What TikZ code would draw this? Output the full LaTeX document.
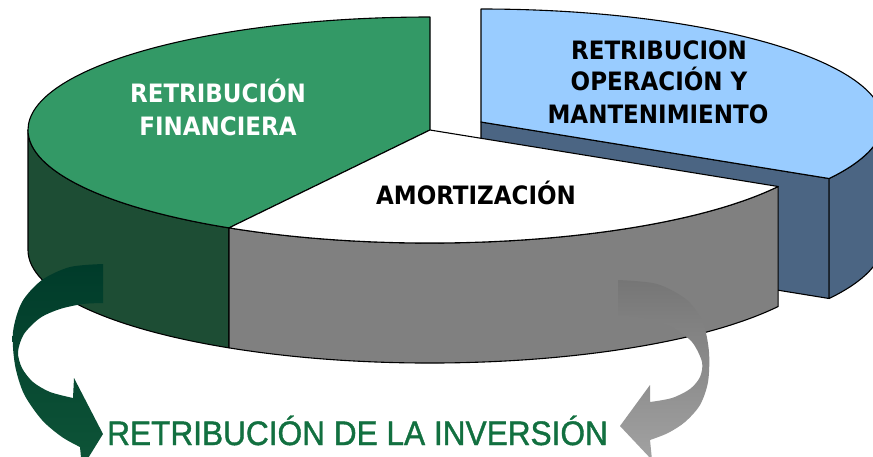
\documentclass[tikz,border=0pt]{standalone}
\usepackage{fontspec}
\setmainfont{Liberation Sans}
\newfontfamily\lblfont{DejaVu Sans}
\newfontfamily\invfont{Liberation Sans}[FakeBold=1.2]
\definecolor{greentop}{HTML}{339966}
\definecolor{greenside}{HTML}{1D4D34}
\definecolor{grayside}{HTML}{808080}
\definecolor{bluetop}{HTML}{99CCFF}
\definecolor{blueside}{HTML}{4B6583}
\definecolor{garrowtop}{HTML}{003B2A}
\definecolor{garrowbot}{HTML}{0E5538}
\definecolor{aarrowtop}{HTML}{767676}
\definecolor{aarrowbot}{HTML}{A2A2A2}
\definecolor{bottomtxt}{HTML}{127040}
\tikzset{
  edge/.style={draw=black, line width=1.1pt, line join=round},
  toplbl/.style={font=\lblfont\bfseries\fontsize{23}{23}\selectfont, inner sep=0pt, anchor=base, yscale=1.1},
  ell/.style={x radius=402, y radius=113},
}
\begin{document}
\begin{tikzpicture}[x=1pt,y=1pt]
\clip (0,-456) rectangle (873,0);
\fill[white] (0,-456) rectangle (873,0);
% centres
\coordinate (C) at (430,-130);
\coordinate (Cb) at (481,-122);
\path (C) ++(240:402 and 113) coordinate (A240);
\path (C) ++(330:402 and 113) coordinate (A330);
\path (C) ++(180:402 and 113) coordinate (A180);
\path (C) ++(90:402 and 113) coordinate (A90);
\path (Cb) ++(330:402 and 113) coordinate (B330);
\path (Cb) ++(90:402 and 113) coordinate (B90);
\path (Cb) ++(0,-120) coordinate (CbD);
% blue slice (exploded)
\filldraw[edge, fill=blueside] (Cb) -- (B330) -- ++(0,-120) -- (CbD) -- cycle;
\filldraw[edge, fill=blueside] (B330) arc[start angle=-30, end angle=0, ell] -- ++(0,-120) arc[start angle=0, end angle=-30, ell] -- cycle;
\filldraw[edge, fill=bluetop] (Cb) -- (B90) arc[start angle=90, end angle=-30, ell] -- cycle;
% green slice
\filldraw[edge, fill=greenside] (A180) arc[start angle=180, end angle=240, ell] -- ++(0,-120) arc[start angle=240, end angle=180, ell] -- cycle;
\filldraw[edge, fill=greentop] (C) -- (A90) arc[start angle=90, end angle=240, ell] -- cycle;
% white slice
\filldraw[edge, fill=grayside] (A240) arc[start angle=240, end angle=330, ell] -- ++(0,-120) arc[start angle=330, end angle=240, ell] -- cycle;
\filldraw[edge, fill=white] (C) -- (A240) arc[start angle=240, end angle=330, ell] -- cycle;
% green curved arrow
\shade[top color=garrowtop, bottom color=garrowbot]
  (103,-264) -- plot[smooth] coordinates {(103,-264) (70,-267) (42,-280) (22,-302) (13,-332) (15,-365) (24,-394) (42,-420) (62,-437) (80,-447)}
  -- (82,-468) -- (103,-434) -- (74,-378) -- (73,-398)
  -- plot[smooth] coordinates {(73,-398) (50,-392) (33,-382) (22,-368) (18,-352) (24,-334) (40,-318) (60,-309) (83,-304) (103,-303)} -- cycle;
% gray curved arrow
\shade[top color=aarrowtop, bottom color=aarrowbot]
  (618,-280) -- plot[smooth] coordinates {(618,-280) (657,-284) (687,-300) (703,-323) (709,-352) (708,-382) (700,-405) (685,-422) (668,-433) (650,-440)}
  -- (652,-460) -- (620,-426) -- (650,-385) -- (650,-402)
  -- plot[smooth] coordinates {(650,-402) (672,-398) (690,-389) (700,-377) (702,-362) (692,-342) (672,-327) (645,-318) (618,-315)} -- cycle;
% labels
\node[toplbl, text=white] (fin1) at (218,-102) {RETRIBUCIÓN};
\node[toplbl, text=white] (fin2) at (218,-135) {FINANCIERA};
\node[toplbl] (op1) at (659,-59) {RETRIBUCION};
\node[toplbl] (op2) at (659,-90) {OPERACIÓN Y};
\node[toplbl] (op3) at (658,-123) {MANTENIMIENTO};
\node[toplbl] (amo) at (476,-204) {AMORTIZACIÓN};
\node[font=\invfont\fontsize{34}{34}\selectfont, text=bottomtxt, inner sep=0pt, anchor=base west, xscale=0.93] (inv) at (107,-445) {RETRIBUCIÓN DE LA INVERSIÓN};
\end{tikzpicture}
\end{document}
